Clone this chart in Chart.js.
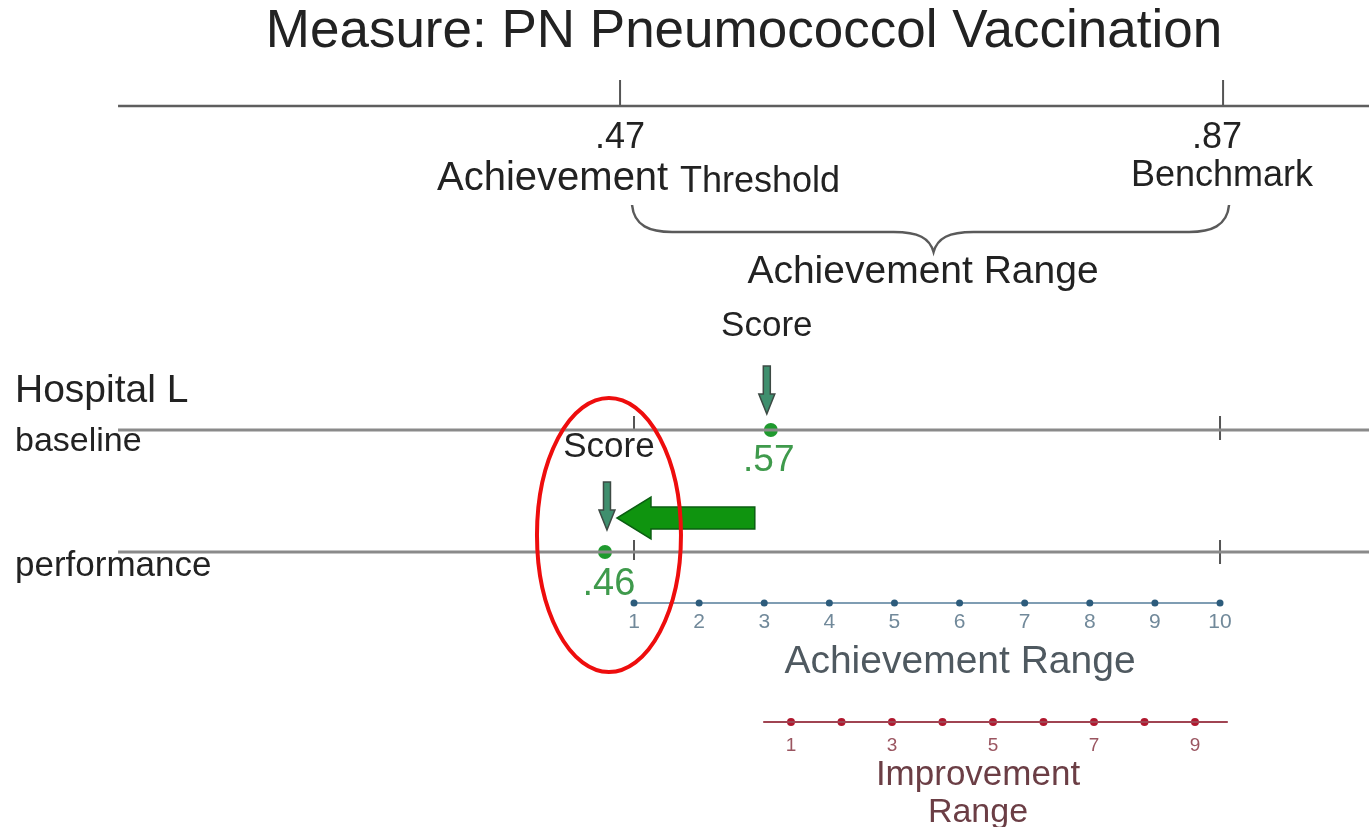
<!DOCTYPE html>
<html>
<head>
<meta charset="utf-8">
<script src="https://cdn.jsdelivr.net/npm/chart.js@4"></script>
<style>
  html, body { margin: 0; padding: 0; background: #fff; }
  canvas { display: block; }
</style>
</head>
<body>
<canvas id="measureChart" width="1369" height="827"></canvas>
<script>
// measure values
const threshold = 0.47;
const benchmark = 0.87;
const baselineScore = 0.57;
const performanceScore = 0.46;

// point scales
const achievementPoints = [1, 2, 3, 4, 5, 6, 7, 8, 9, 10];
const improvementPoints = [1, 2, 3, 4, 5, 6, 7, 8, 9];
const improvementLabels = [1, 3, 5, 7, 9];

// where the long lines start and end (in measure units / improvement points)
const axisFrom = 0.137;
const axisTo = 0.967;
const improvementFrom = 0.45;
const improvementTo = 9.65;

// row heights, layout only
const rowY = { top: 106, baseline: 430, performance: 552, achieve: 603, improve: 722, bigArrow: 518 };

const font = 'Liberation Sans, Arial, sans-serif';
const green = '#1f9a2e';

function hline(x1, x2, y, color, width, axis) {
    return {
        type: 'line', xAxisID: axis || 'x',
        data: [{ x: x1, y: y }, { x: x2, y: y }],
        borderColor: color, borderWidth: width, pointRadius: 0
    };
}
function vtick(x, y1, y2, axis) {
    return {
        type: 'line', xAxisID: axis || 'x',
        data: [{ x: x, y: y1 }, { x: x, y: y2 }],
        borderColor: '#555', borderWidth: 2, pointRadius: 0
    };
}

const datasets = [
    hline(axisFrom, axisTo, rowY.top, '#5e5e5e', 2.5),
    vtick(threshold, rowY.top - 26, rowY.top),
    vtick(benchmark, rowY.top - 26, rowY.top),
    hline(axisFrom, axisTo, rowY.baseline, '#8a8a8a', 3),
    hline(axisFrom, axisTo, rowY.performance, '#8a8a8a', 3),
    vtick(achievementPoints[0], rowY.baseline - 14, rowY.baseline, 'xa'),
    vtick(achievementPoints[9], rowY.baseline - 14, rowY.baseline + 10, 'xa'),
    vtick(achievementPoints[0], rowY.performance - 12, rowY.performance + 8, 'xa'),
    vtick(achievementPoints[9], rowY.performance - 12, rowY.performance + 12, 'xa'),
    {
        type: 'line', xAxisID: 'xa',
        data: achievementPoints.map(p => ({ x: p, y: rowY.achieve })),
        borderColor: '#7f9db3', borderWidth: 2,
        pointRadius: 3.5, pointBackgroundColor: '#2d5c7c', pointBorderWidth: 0
    },
    hline(improvementFrom, improvementTo, rowY.improve, '#a04452', 2, 'xi'),
    {
        type: 'scatter', xAxisID: 'xi',
        data: improvementPoints.map(p => ({ x: p, y: rowY.improve })),
        pointRadius: 4, pointBackgroundColor: '#b0182e', pointBorderWidth: 0
    },
    {
        type: 'scatter',
        data: [{ x: baselineScore, y: rowY.baseline }, { x: performanceScore, y: rowY.performance }],
        pointRadius: 7, pointBackgroundColor: green, pointBorderWidth: 0
    }
];

function downArrow(ctx, x, tipY) {
    ctx.save();
    ctx.beginPath();
    ctx.moveTo(x - 3.5, tipY - 48);
    ctx.lineTo(x + 3.5, tipY - 48);
    ctx.lineTo(x + 3.5, tipY - 20);
    ctx.lineTo(x + 8, tipY - 20);
    ctx.lineTo(x, tipY);
    ctx.lineTo(x - 8, tipY - 20);
    ctx.lineTo(x - 3.5, tipY - 20);
    ctx.closePath();
    ctx.fillStyle = '#3f8f6e';
    ctx.fill();
    ctx.strokeStyle = '#3d4a44';
    ctx.lineWidth = 1.5;
    ctx.stroke();
    ctx.restore();
}

const drawings = {
    id: 'drawings',
    afterDatasetsDraw(chart) {
        const ctx = chart.ctx;
        const x = chart.scales.x, xa = chart.scales.xa, xi = chart.scales.xi;
        const px = v => x.getPixelForValue(v);

        function text(str, tx, ty, size, color, align) {
            ctx.font = size + 'px ' + font;
            ctx.fillStyle = color || '#222';
            ctx.textAlign = align || 'center';
            ctx.textBaseline = 'alphabetic';
            ctx.fillText(str, tx, ty);
        }

        text('Measure: PN Pneumococcol Vaccination', 744, 47, 53);
        text('.47', px(threshold), 148, 36);
        text('.87', px(benchmark) - 6, 148, 36);
        text('Achievement', 437, 190, 40, '#222', 'left');
        text('Threshold', 680, 192, 36, '#222', 'left');
        text('Benchmark', px(benchmark) - 1, 186, 36);

        // brace under the achievement range
        const bL = px(threshold) + 12, bR = px(benchmark) + 6, mid = (bL + bR) / 2 + 3;
        ctx.save();
        ctx.strokeStyle = '#5a5a5a';
        ctx.lineWidth = 2.5;
        ctx.beginPath();
        ctx.moveTo(bL, 205);
        ctx.bezierCurveTo(bL + 2, 226, bL + 18, 232, bL + 40, 232);
        ctx.lineTo(mid - 40, 232);
        ctx.bezierCurveTo(mid - 15, 232, mid - 4, 238, mid, 252);
        ctx.bezierCurveTo(mid + 4, 238, mid + 15, 232, mid + 40, 232);
        ctx.lineTo(bR - 40, 232);
        ctx.bezierCurveTo(bR - 18, 232, bR - 2, 226, bR, 205);
        ctx.stroke();
        ctx.restore();
        text('Achievement Range', 923, 283, 39);

        const bx = px(baselineScore), pfx = px(performanceScore);
        text('Score', bx - 4, 336, 35);
        downArrow(ctx, bx - 4, rowY.baseline - 16);
        text('.57', bx - 2, 471, 37, '#3f9a4c');

        text('Hospital L', 15, 402, 39, '#222', 'left');
        text('baseline', 15, 451, 34, '#222', 'left');
        text('performance', 15, 576, 35, '#222', 'left');

        text('Score', pfx + 4, 457, 35);
        downArrow(ctx, pfx + 2, rowY.performance - 22);
        text('.46', pfx + 4, 595, 38, '#3f9a4c');

        // big green arrow from baseline score to performance score
        const y0 = rowY.bigArrow, tail = bx - 16, tip = pfx + 12;
        ctx.save();
        ctx.beginPath();
        ctx.moveTo(tail, y0 - 11);
        ctx.lineTo(tip + 34, y0 - 11);
        ctx.lineTo(tip + 34, y0 - 21);
        ctx.lineTo(tip, y0);
        ctx.lineTo(tip + 34, y0 + 21);
        ctx.lineTo(tip + 34, y0 + 11);
        ctx.lineTo(tail, y0 + 11);
        ctx.closePath();
        ctx.fillStyle = '#0f940f';
        ctx.fill();
        ctx.strokeStyle = '#0b5e12';
        ctx.lineWidth = 1.5;
        ctx.stroke();
        ctx.restore();

        achievementPoints.forEach(p => text(String(p), xa.getPixelForValue(p), 628, 21, '#71899a'));
        text('Achievement Range', 960, 673, 39, '#4f5960');

        improvementLabels.forEach(p => text(String(p), xi.getPixelForValue(p), 751, 19, '#9a5560'));
        text('Improvement', 978, 785, 35, '#6b3e45');
        text('Range', 978, 822, 34, '#6b3e45');

        // red circle around the performance score
        ctx.save();
        ctx.beginPath();
        ctx.ellipse(pfx + 4, 535, 72, 137, 0, 0, Math.PI * 2);
        ctx.strokeStyle = '#ee0d0d';
        ctx.lineWidth = 4;
        ctx.stroke();
        ctx.restore();
    }
};

new Chart(document.getElementById('measureChart'), {
    type: 'scatter',
    data: { datasets: datasets },
    options: {
        responsive: false,
        animation: false,
        layout: { padding: 0, autoPadding: false },
        plugins: { legend: { display: false }, tooltip: { enabled: false } },
        scales: {
            x: { type: 'linear', display: false, min: 0.0587, max: 0.9668 },
            xa: { type: 'linear', display: false, min: -8.737, max: 12.288 },
            xi: { type: 'linear', display: false, min: -14.663, max: 12.446 },
            y: { type: 'linear', display: false, min: 0, max: 827, reverse: true }
        }
    },
    plugins: [drawings]
});
</script>
</body>
</html>
